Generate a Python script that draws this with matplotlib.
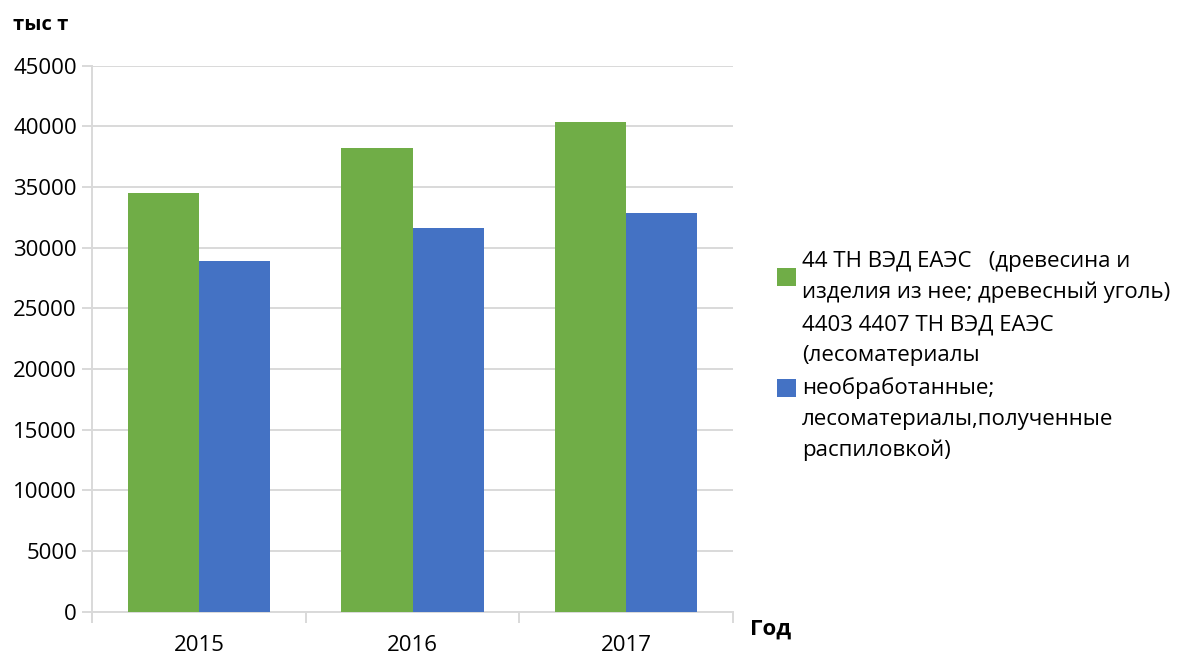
import matplotlib
matplotlib.use("Agg")
import matplotlib.pyplot as plt
import numpy as np

years = ["2015", "2016", "2017"]
series_names = [
    "44 ТН ВЭД ЕАЭС   (древесина и\nизделия из нее; древесный уголь)",
    "4403 4407 ТН ВЭД ЕАЭС\n(лесоматериалы\nнеобработанные;\nлесоматериалы,полученные\nраспиловкой)",
]
green_vals = [34500, 38200, 40400]
blue_vals = [28900, 31600, 32900]
colors = ["#70AD47", "#4472C4"]
yticks = [0, 5000, 10000, 15000, 20000, 25000, 30000, 35000, 40000, 45000]

plt.rcParams['font.family'] = ['Open Sans', 'DejaVu Sans']

fig = plt.figure(figsize=(11.92, 6.54), dpi=100)
ax = fig.add_axes([92/1192, 1 - 611.7/654, (733 - 92)/1192, (611.7 - 65.7)/654])

x = np.arange(len(years))
w = 0.333
ax.bar(x - w/2, green_vals, width=w, color=colors[0], label=series_names[0], zorder=3)
ax.bar(x + w/2, blue_vals, width=w, color=colors[1], label=series_names[1], zorder=3)

ax.set_xlim(-0.5, 2.5)
ax.set_ylim(0, 45000)
ax.set_yticks(yticks)
ax.set_yticklabels([str(v) for v in yticks], fontsize=16)
ax.set_xticks(x)
ax.set_xticklabels(years, fontsize=16)
ax.tick_params(axis='x', length=0, pad=17)
ax.tick_params(axis='y', length=7.2, color='#d9d9d9', width=1.4, pad=3.6)
ax.set_xticks([-0.5, 0.5, 1.5, 2.5], minor=True)
ax.tick_params(axis='x', which='minor', length=8, color='#d9d9d9', width=1.4)

ax.grid(axis='y', color='#d9d9d9', linewidth=1.4, zorder=0)
for s in ['top', 'right']:
    ax.spines[s].set_visible(False)
ax.spines['left'].set_color('#d9d9d9')
ax.spines['left'].set_linewidth(1.4)
ax.spines['left'].set_bounds(-850, 45000)
ax.spines['bottom'].set_color('#d9d9d9')
ax.spines['bottom'].set_linewidth(1.4)

fig.text(13/1192, 1 - 25/654, "тыс т", fontsize=14.5, fontweight='bold', va='center', ha='left')
fig.text(750/1192, 1 - 629/654, "Год", fontsize=16, fontweight='bold', va='center', ha='left')

leg = ax.legend(loc='center left', bbox_to_anchor=(766/1192, 1 - 356/654),
                bbox_transform=fig.transFigure, frameon=False, borderpad=0,
                fontsize=16, handlelength=0.85, handleheight=0.85, handletextpad=0.27,
                labelspacing=0.51)
for t in leg.get_texts():
    t.set_linespacing(1.62)

fig.savefig("out.png", dpi=100)
